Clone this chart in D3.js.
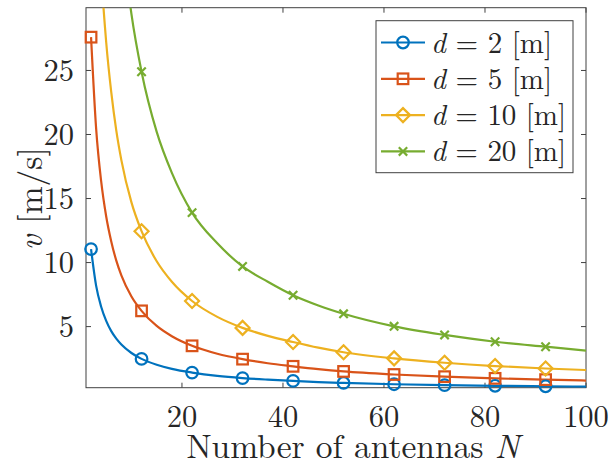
<!DOCTYPE html>
<html>
<head>
<meta charset="utf-8">
<script src="https://cdn.jsdelivr.net/npm/d3@7"></script>
<style>
  body { margin: 0; background: #fff; }
</style>
</head>
<body>
<svg id="chart" width="610" height="464"></svg>
<script>
// DATA //

// sampled antenna counts (x) and the speed read for each spacing d (y)
const antennas = [2, 3, 4, 5, 6, 7, 8, 10, 12, 15, 18, 22, 27, 32, 37, 42, 47, 52, 62, 72, 82, 92, 100];
const speedD2  = [11.05, 8.2, 6.55, 5.45, 4.65, 4.06, 3.6, 2.94, 2.48, 2.02, 1.7, 1.41, 1.15, 0.98, 0.86, 0.76, 0.67, 0.6, 0.5, 0.43, 0.38, 0.34, 0.31];
const speedD5  = [27.6, 20.5, 16.35, 13.6, 11.65, 10.15, 9.0, 7.35, 6.23, 5.05, 4.25, 3.5, 2.88, 2.46, 2.14, 1.9, 1.68, 1.5, 1.26, 1.09, 0.96, 0.86, 0.79];
const speedD10 = [55.2, 41.1, 32.7, 27.2, 23.3, 20.3, 18.0, 14.7, 12.45, 10.1, 8.5, 7.0, 5.76, 4.9, 4.28, 3.8, 3.36, 3.0, 2.52, 2.18, 1.92, 1.73, 1.61];
const speedD20 = [110.4, 82.2, 65.4, 54.4, 46.6, 40.6, 36.0, 29.4, 24.9, 20.2, 17.0, 13.9, 11.5, 9.7, 8.5, 7.45, 6.65, 6.0, 5.02, 4.35, 3.82, 3.43, 3.13];

// markers are drawn every 10 antennas starting at N = 2
const markerAntennas = [2, 12, 22, 32, 42, 52, 62, 72, 82, 92];

const distances = [2, 5, 10, 20];
const seriesColors = ['#0072BD', '#D95319', '#EDB120', '#77AC30'];
const markerShapes = ['circle', 'square', 'diamond', 'cross'];

const xTicks = [20, 40, 60, 80, 100];
const yTicks = [5, 10, 15, 20, 25];

// LAYOUT //

const svg = d3.select('#chart');
const plot = { left: 86, right: 586, top: 7.7, bottom: 387.7 };
const axisColor = '#404040';
const textColor = '#262626';
const latex = 'Latin Modern Roman, serif';
const tickSize = 30.5;
const labelSize = 33.5;
const legendSize = 29;
const lineWidth = 2.2;

const x = d3.scaleLinear().domain([1, 100]).range([plot.left, plot.right]);
const y = d3.scaleLinear().domain([0.23, 29.9]).range([plot.bottom, plot.top]);

svg.append('defs').append('clipPath')
  .attr('id', 'plot-clip')
  .append('rect')
  .attr('x', plot.left)
  .attr('y', plot.top)
  .attr('width', plot.right - plot.left)
  .attr('height', plot.bottom - plot.top);

// Add a LaTeX-looking text element.
function addText(g, px, py, size) {
  return g.append('text')
    .attr('x', px).attr('y', py)
    .attr('font-family', latex)
    .attr('font-size', size)
    .attr('fill', textColor);
}

// Draw a marker of the given shape centred at (cx, cy).
function drawMarker(g, shape, cx, cy, color) {
  if (shape === 'circle') {
    g.append('circle').attr('cx', cx).attr('cy', cy).attr('r', 5.8)
      .attr('fill', 'none').attr('stroke', color).attr('stroke-width', lineWidth);
  } else if (shape === 'square') {
    const h = 5.3;
    g.append('rect').attr('x', cx - h).attr('y', cy - h).attr('width', 2 * h).attr('height', 2 * h)
      .attr('fill', 'none').attr('stroke', color).attr('stroke-width', lineWidth);
  } else if (shape === 'diamond') {
    const r = 7;
    g.append('path')
      .attr('d', `M${cx},${cy - r}L${cx + r},${cy}L${cx},${cy + r}L${cx - r},${cy}Z`)
      .attr('fill', 'none').attr('stroke', color).attr('stroke-width', lineWidth);
  } else {
    const r = 4.2;
    g.append('path')
      .attr('d', `M${cx - r},${cy - r}L${cx + r},${cy + r}M${cx - r},${cy + r}L${cx + r},${cy - r}`)
      .attr('fill', 'none').attr('stroke', color).attr('stroke-width', lineWidth);
  }
}

// AXES BOX AND TICKS //

const axes = svg.append('g');
const tickLen = 5;

axes.append('rect')
  .attr('x', plot.left).attr('y', plot.top)
  .attr('width', plot.right - plot.left).attr('height', plot.bottom - plot.top)
  .attr('fill', 'none').attr('stroke', axisColor).attr('stroke-width', 1);

xTicks.forEach(t => {
  const px = x(t);
  axes.append('line').attr('x1', px).attr('x2', px)
    .attr('y1', plot.bottom).attr('y2', plot.bottom - tickLen)
    .attr('stroke', axisColor);
  axes.append('line').attr('x1', px).attr('x2', px)
    .attr('y1', plot.top).attr('y2', plot.top + tickLen)
    .attr('stroke', axisColor);
  addText(axes, px, 427, tickSize)
    .attr('text-anchor', 'middle')
    .text(t);
});

yTicks.forEach(t => {
  const py = y(t);
  axes.append('line').attr('x1', plot.left).attr('x2', plot.left + tickLen)
    .attr('y1', py).attr('y2', py)
    .attr('stroke', axisColor);
  axes.append('line').attr('x1', plot.right).attr('x2', plot.right - tickLen)
    .attr('y1', py).attr('y2', py)
    .attr('stroke', axisColor);
  addText(axes, 74, py + 10.5, tickSize)
    .attr('text-anchor', 'end')
    .text(t);
});

// axis labels
const xLabel = addText(svg, 353, 458, labelSize)
  .attr('text-anchor', 'middle');
xLabel.append('tspan').text('Number of antennas ');
xLabel.append('tspan').attr('font-style', 'italic').text('N');

const yLabel = addText(svg, 0, 0, labelSize)
  .attr('transform', `translate(42, ${(plot.top + plot.bottom) / 2 + 1}) rotate(-90)`)
  .attr('text-anchor', 'middle');
yLabel.append('tspan').attr('font-style', 'italic').text('v');
yLabel.append('tspan').text(' [m/s]');

// SERIES //

const allSeries = [speedD2, speedD5, speedD10, speedD20];

const line = d3.line()
  .x(d => x(d[0]))
  .y(d => y(d[1]))
  .curve(d3.curveMonotoneX);

const marks = svg.append('g').attr('clip-path', 'url(#plot-clip)');

allSeries.forEach((values, i) => {
  const pts = antennas.map((n, j) => [n, values[j]]);
  marks.append('path')
    .datum(pts)
    .attr('d', line)
    .attr('fill', 'none')
    .attr('stroke', seriesColors[i])
    .attr('stroke-width', lineWidth);
});

// markers sit on top of the lines, outside the clip so edge markers stay whole
const markerLayer = svg.append('g');
allSeries.forEach((values, i) => {
  antennas.forEach((n, j) => {
    if (markerAntennas.indexOf(n) < 0) return;
    if (values[j] > y.domain()[1]) return;
    drawMarker(markerLayer, markerShapes[i], x(n), y(values[j]), seriesColors[i]);
  });
});

// LEGEND //

const legend = svg.append('g');
legend.append('rect')
  .attr('x', 376).attr('y', 20.7)
  .attr('width', 197).attr('height', 152)
  .attr('fill', '#fff').attr('stroke', axisColor).attr('stroke-width', 1);

distances.forEach((d, i) => {
  const cy = 42.5 + i * 36.3;
  legend.append('line')
    .attr('x1', 381).attr('x2', 425)
    .attr('y1', cy).attr('y2', cy)
    .attr('stroke', seriesColors[i]).attr('stroke-width', lineWidth);
  drawMarker(legend, markerShapes[i], 403, cy, seriesColors[i]);
  const label = addText(legend, 431, cy + 10, legendSize)
    .attr('textLength', d < 10 ? 121 : 135)
    .attr('lengthAdjust', 'spacing');
  label.append('tspan').attr('font-style', 'italic').text('d');
  label.append('tspan').text(' = ' + d + ' [m]');
});
</script>
</body>
</html>
